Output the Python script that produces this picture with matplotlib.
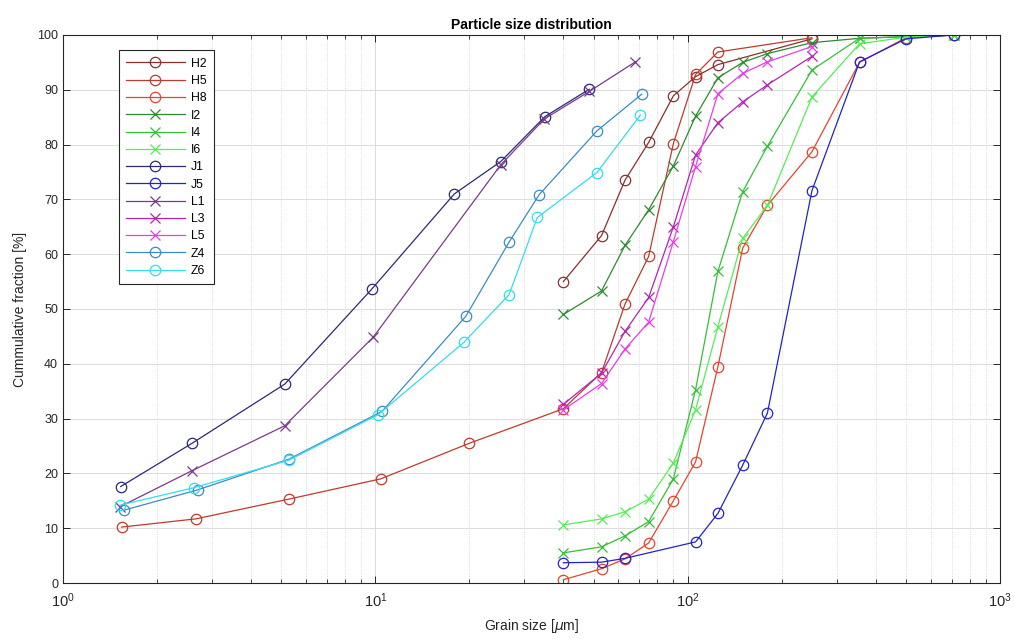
import matplotlib
matplotlib.use("Agg")
import matplotlib.pyplot as plt
from matplotlib.ticker import LogLocator, NullFormatter, MultipleLocator

plt.rcParams['font.family'] = ['Liberation Sans', 'DejaVu Sans']

# ---- data ----
sieve = [40, 53, 63, 75, 90, 106, 125, 150, 180, 250, 355, 500, 710]

H2_x = [40, 53, 63, 75, 90, 106, 125, 250]
H2_y = [55.0, 63.4, 73.5, 80.4, 88.9, 92.4, 94.6, 99.3]

H5_x = [1.54, 2.66, 5.28, 10.4, 20, 40, 53, 63, 75, 90, 106, 125, 250]
H5_y = [10.2, 11.7, 15.3, 19.0, 25.5, 31.8, 38.4, 50.9, 59.6, 80.2, 92.8, 96.9, 99.5]

H8_x = sieve
H8_y = [0.6, 2.6, 4.4, 7.3, 15.0, 22.1, 39.5, 61.1, 68.9, 78.7, 95.0, 99.5, 100.0]

I2_x = sieve
I2_y = [49.0, 53.3, 61.6, 68.1, 76.1, 85.2, 92.2, 95.0, 96.6, 98.6, 99.4, 99.7, 100.0]

I4_x = sieve
I4_y = [5.5, 6.6, 8.6, 11.2, 19.0, 35.3, 56.9, 71.4, 79.7, 93.6, 99.4, 99.7, 100.0]

I6_x = sieve
I6_y = [10.6, 11.7, 13.0, 15.3, 21.9, 31.6, 46.8, 62.9, 68.9, 88.7, 98.4, 99.6, 100.0]

J1_x = [1.53, 2.59, 5.13, 9.73, 17.9, 25.2, 34.9, 48.4]
J1_y = [17.6, 25.5, 36.3, 53.6, 71.0, 76.9, 85.1, 90.1]

J5_x = [40, 53, 63, 106, 125, 150, 180, 250, 355, 500, 710]
J5_y = [3.7, 3.8, 4.5, 7.5, 12.7, 21.5, 31.0, 71.6, 95.1, 99.3, 100.0]

L1_x = [1.52, 2.59, 5.13, 9.86, 25.2, 34.8, 48.4, 68]
L1_y = [13.9, 20.5, 28.7, 44.9, 76.3, 84.7, 89.7, 95.1]

L3_x = [40, 53, 63, 75, 90, 106, 125, 150, 180, 250]
L3_y = [32.6, 38.3, 45.9, 52.1, 65.0, 78.1, 84.0, 87.8, 90.9, 96.1]

L5_x = [40, 53, 63, 75, 90, 106, 125, 150, 180, 250]
L5_y = [31.6, 36.4, 42.7, 47.6, 62.3, 76.0, 89.3, 93.0, 95.1, 97.9]

Z4_x = [1.57, 2.70, 5.29, 10.5, 19.5, 26.8, 33.4, 51.2, 71.3]
Z4_y = [13.3, 17.0, 22.6, 31.3, 48.7, 62.2, 70.8, 82.5, 89.2]

Z6_x = [1.52, 2.63, 5.28, 10.2, 19.2, 26.8, 33.0, 51.2, 70.6]
Z6_y = [14.2, 17.4, 22.4, 30.7, 43.9, 52.6, 66.7, 74.9, 85.4]

series = [
    ("H2", H2_x, H2_y, 'o', '#8B2E2E'),
    ("H5", H5_x, H5_y, 'o', '#BE3A2E'),
    ("H8", H8_x, H8_y, 'o', '#E8432C'),
    ("I2", I2_x, I2_y, 'x', '#2E8B2E'),
    ("I4", I4_x, I4_y, 'x', '#35C035'),
    ("I6", I6_x, I6_y, 'x', '#55EE55'),
    ("J1", J1_x, J1_y, 'o', '#2A2A78'),
    ("J5", J5_x, J5_y, 'o', '#2222CC'),
    ("L1", L1_x, L1_y, 'x', '#7A3A8C'),
    ("L3", L3_x, L3_y, 'x', '#B424B4'),
    ("L5", L5_x, L5_y, 'x', '#EA3CEA'),
    ("Z4", Z4_x, Z4_y, 'o', '#3A8CC4'),
    ("Z6", Z6_x, Z6_y, 'o', '#33DDEE'),
]

fig = plt.figure(figsize=(10.15, 6.39), dpi=100)
ax = fig.add_axes([63/1015, 56/639, 937/1015, 548/639])

for name, xs, ys, mk, col in series:
    ax.plot(xs, ys, marker=mk, color=col, lw=0.9, markersize=7.5,
            markerfacecolor='none', markeredgewidth=0.9, label=name)

ax.set_xscale('log')
ax.set_xlim(1, 1000)
ax.set_ylim(0, 100)
ax.yaxis.set_major_locator(MultipleLocator(10))
ax.xaxis.set_major_locator(LogLocator(base=10, numticks=10))
ax.xaxis.set_minor_locator(LogLocator(base=10, subs=range(2, 10), numticks=20))
ax.xaxis.set_minor_formatter(NullFormatter())

ax.grid(True, which='major', color='#DCDCDC', lw=0.7, ls='-')
ax.grid(True, which='minor', axis='x', color='#CFCFCF', lw=0.6, ls=':')
ax.set_axisbelow(True)

ax.tick_params(which='both', direction='in', top=True, right=True,
               labelsize=9, colors='#262626')
ax.tick_params(axis='x', which='major', labelsize=10.5, pad=6)
ax.tick_params(which='major', length=5, width=0.7)
ax.tick_params(which='minor', length=3, width=0.6)
for sp in ax.spines.values():
    sp.set_color('#262626')
    sp.set_linewidth(0.8)

ax.set_title('Particle size distribution', fontsize=10, fontweight='bold', pad=4)
ax.set_xlabel(r'Grain size [$\mu$m]', fontsize=10, labelpad=5, color='#262626')
ax.set_ylabel('Cummulative fraction [%]', fontsize=10, labelpad=7, color='#262626')

leg = ax.legend(loc='upper left', bbox_to_anchor=(0.053, 0.983), fontsize=8.8,
                handlelength=4.8, labelspacing=0.43, borderpad=0.6,
                handletextpad=0.5, fancybox=False, framealpha=1,
                edgecolor='#262626')
leg.get_frame().set_linewidth(0.8)

fig.savefig('out.png', dpi=100, facecolor='white')
